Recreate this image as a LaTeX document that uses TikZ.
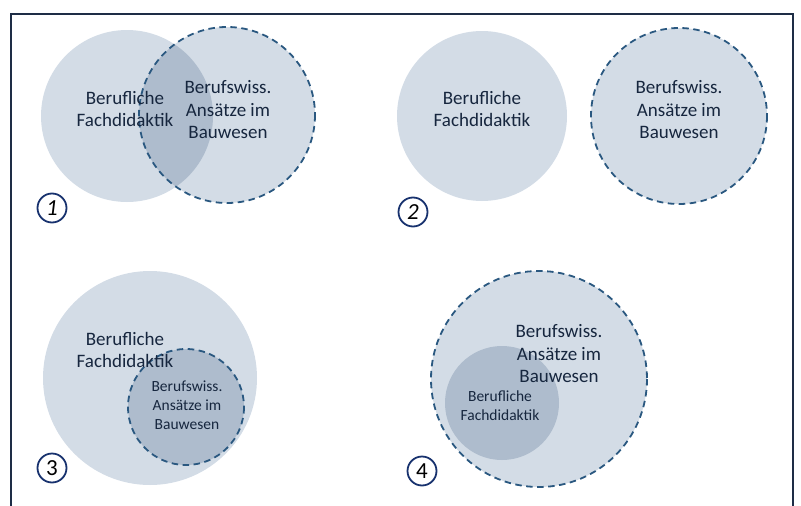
\documentclass[tikz,border=0pt]{standalone}
\usepackage{fontspec}
\setmainfont{Carlito}
\begin{document}
\begin{tikzpicture}[x=1pt,y=-1pt,
  lightfill/.style={fill=lightc},
  darkfill/.style={fill=darkc},
  dashring/.style={draw=dashc,line width=1.8pt,dash pattern=on 6.5pt off 4.5pt},
  bigtxt/.style={align=center,text=txtc,font=\fontsize{19}{22.5}\selectfont,inner sep=0pt},
  smalltxt/.style={align=center,text=txtc,font=\fontsize{15.5}{19}\selectfont,inner sep=0pt},
  numring/.style={draw=numc,line width=1.8pt,minimum size=29pt,inner sep=0pt,circle,text=black,font=\fontsize{23}{23}\selectfont}
]
\definecolor{lightc}{RGB}{211,220,230}
\definecolor{darkc}{RGB}{174,188,205}
\definecolor{dashc}{RGB}{42,88,128}
\definecolor{txtc}{RGB}{22,38,62}
\definecolor{numc}{RGB}{24,50,110}
\definecolor{framec}{RGB}{30,45,70}
\useasboundingbox (0,0) rectangle (801,506);
% frame
\draw[framec,line width=2pt] (11,520) -- (11,14) -- (793,14) -- (793,520);
% ---- panel 1
\fill[lightfill] (127,116) circle (86);
\fill[lightfill] (227,115) circle (88);
\begin{scope}
  \clip (127,116) circle (86);
  \fill[darkfill] (227,115) circle (88);
\end{scope}
\draw[dashring] (227,115) circle (88);
\node[bigtxt] (t1a) at (125,109) {Berufliche\\Fachdidaktik};
\node[bigtxt] (t1b) at (228,110) {Berufswiss.\\Ansätze im\\Bauwesen};
\node[numring,font=\itshape\fontsize{23}{23}\selectfont] (n1) at (52,208) {1};
% ---- panel 2
\fill[lightfill] (482,116) circle (85);
\fill[lightfill] (679,116) circle (88);
\draw[dashring] (679,116) circle (88);
\node[bigtxt] (t2a) at (482,109) {Berufliche\\Fachdidaktik};
\node[bigtxt] (t2b) at (679,110) {Berufswiss.\\Ansätze im\\Bauwesen};
\node[numring,font=\itshape\fontsize{23}{23}\selectfont] (n2) at (413,212) {2};
% ---- panel 3
\fill[lightfill] (150,378) circle (107);
\fill[darkfill] (186,407) circle (58);
\draw[dashring] (186,407) circle (58);
\node[bigtxt] (t3a) at (125,350) {Berufliche\\Fachdidaktik};
\node[smalltxt] (t3b) at (187,405) {Berufswiss.\\Ansätze im\\Bauwesen};
\node[numring] (n3) at (52,468) {3};
% ---- panel 4
\fill[lightfill] (539,379) circle (108);
\fill[darkfill] (502,403) circle (57);
\draw[dashring] (539,379) circle (108);
\node[bigtxt] (t4a) at (559,354) {Berufswiss.\\Ansätze im\\Bauwesen};
\node[smalltxt] (t4b) at (500,406) {Berufliche\\Fachdidaktik};
\node[numring] (n4) at (422,471) {4};
\end{tikzpicture}
\end{document}
